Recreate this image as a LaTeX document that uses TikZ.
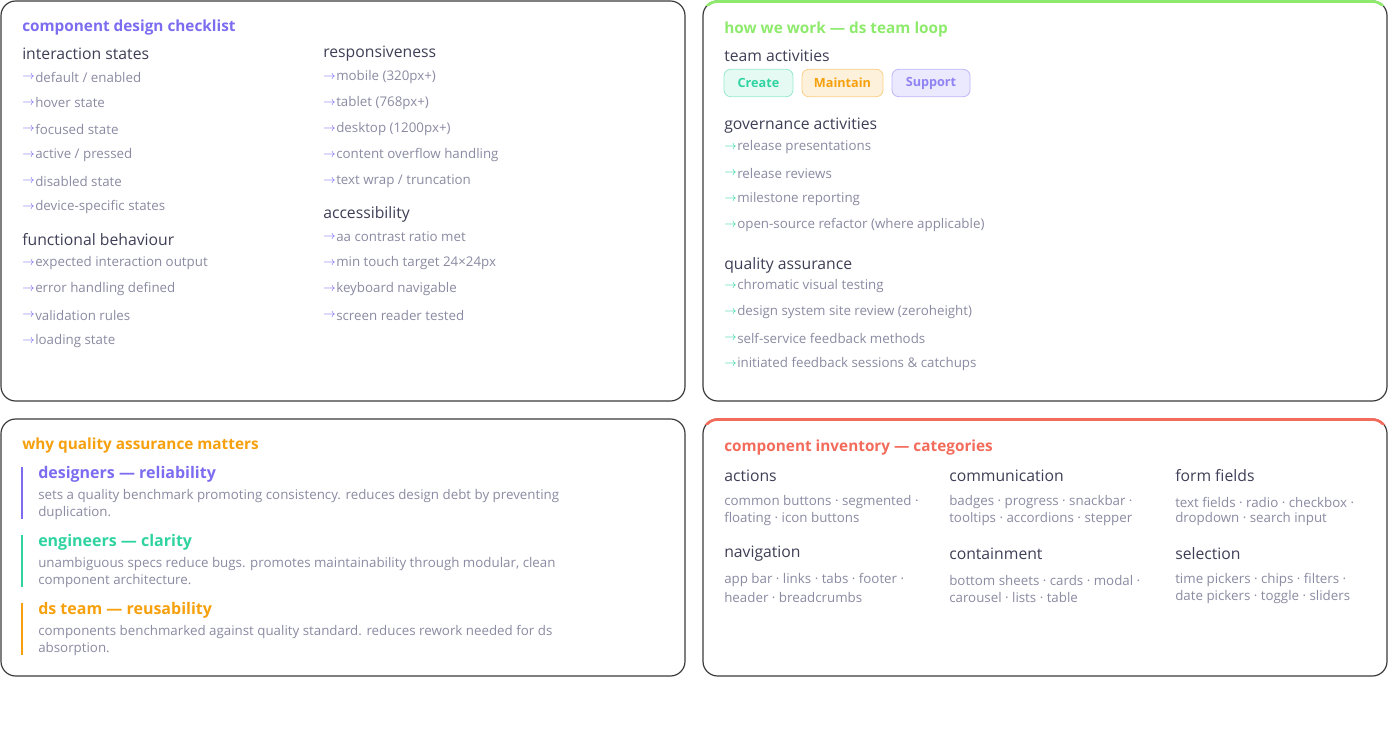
\documentclass[tikz,border=0pt]{standalone}
\usepackage{fontspec}
\setmainfont{Open Sans}
\begin{document}
\definecolor{bord}{HTML}{3A3A3A}
\definecolor{purp}{HTML}{7B6CF0}
\definecolor{lgreen}{HTML}{8EEA6C}
\definecolor{teal}{HTML}{2FD3A0}
\definecolor{orng}{HTML}{F5A00C}
\definecolor{salm}{HTML}{F26B5B}
\definecolor{head}{HTML}{3E3E56}
\definecolor{item}{HTML}{8A8AA2}
\begin{tikzpicture}[x=0.75pt,y=-0.75pt,
  box/.style={draw=bord,line width=0.9pt,rounded corners=11pt},
  ttl/.style={anchor=west,inner sep=0pt,font=\fontsize{11.5}{13}\selectfont\bfseries},
  hd/.style={anchor=west,inner sep=0pt,text=head,font=\fontsize{11.8}{14}\selectfont},
  it/.style={anchor=west,inner sep=0pt,text=item,font=\fontsize{10}{12}\selectfont},
  ar/.style={anchor=west,inner sep=0pt,font=\fontsize{9}{10}\selectfont},
  chip/.style={draw,rounded corners=5pt,line width=0.6pt,minimum height=20.5pt,inner xsep=0pt,font=\fontsize{9.5}{11}\selectfont\bfseries}]
\useasboundingbox (0,0) rectangle (1388,735);
% boxes
\draw[box] (1,1) rectangle (685,401);
\draw[box] (703,1) rectangle (1387,401);
\draw[box] (1,419) rectangle (685,676);
\draw[box] (703,419) rectangle (1387,676);
\begin{scope}
\clip (703,0) rectangle (1388,6);
\draw[lgreen,line width=2pt,rounded corners=11pt] (703,30) -- (703,1.5) -- (1387,1.5) -- (1387,30);
\end{scope}
\begin{scope}
\clip (703,418) rectangle (1388,424);
\draw[salm,line width=2pt,rounded corners=11pt] (703,450) -- (703,419.5) -- (1387,419.5) -- (1387,450);
\end{scope}
% ---- box 1
\node[ttl,text=purp] (t1) at (22,28) {component design checklist};
\newcommand{\itm}[5]{\node[ar,text=#4] (#5a) at (#1,#2) {$\rightarrow$}; \node[it] (#5) at (#1+13,#2) {#3};}
\node[hd] (h1) at (22,54) {interaction states};
\itm{22}{77}{default / enabled}{purp}{a1}
\itm{22}{103}{hover state}{purp}{a2}
\itm{22}{129}{focused state}{purp}{a3}
\itm{22}{155}{active / pressed}{purp}{a4}
\itm{22}{181}{disabled state}{purp}{a5}
\itm{22}{207}{device-specific states}{purp}{a6}
\node[hd] (h2) at (22,240) {functional behaviour};
\itm{22}{263}{expected interaction output}{purp}{b1}
\itm{22}{289}{error handling defined}{purp}{b2}
\itm{22}{315}{validation rules}{purp}{b3}
\itm{22}{341}{loading state}{purp}{b4}
\node[hd] (h3) at (323,54) {responsiveness};
\itm{323}{77}{mobile (320px+)}{purp}{c1}
\itm{323}{103}{tablet (768px+)}{purp}{c2}
\itm{323}{129}{desktop (1200px+)}{purp}{c3}
\itm{323}{155}{content overflow handling}{purp}{c4}
\itm{323}{181}{text wrap / truncation}{purp}{c5}
\node[hd] (h4) at (323,214) {accessibility};
\itm{323}{237}{aa contrast ratio met}{purp}{d1}
\itm{323}{263}{min touch target 24×24px}{purp}{d2}
\itm{323}{289}{keyboard navigable}{purp}{d3}
\itm{323}{315}{screen reader tested}{purp}{d4}
% ---- box 2
\node[ttl,text=lgreen] (t2) at (724,30) {how we work — ds team loop};
\node[hd] (h5) at (724,56) {team activities};
\node[chip,draw=teal!50,fill=teal!12,text=teal,minimum width=51.75pt] (ch1) at (758.5,83) {Create};
\node[chip,draw=orng!50,fill=orng!15,text=orng,minimum width=60.75pt] (ch2) at (842.5,83) {Maintain};
\node[chip,draw=purp!50,fill=purp!15,text=purp!85,minimum width=58.5pt] (ch3) at (931,83) {Support};
\node[hd] (h6) at (724,126) {governance activities};
\itm{724}{147}{release presentations}{teal}{e1}
\itm{724}{173}{release reviews}{teal}{e2}
\itm{724}{199}{milestone reporting}{teal}{e3}
\itm{724}{225}{open-source refactor (where applicable)}{teal}{e4}
\node[hd] (h7) at (724,265) {quality assurance};
\itm{724}{286}{chromatic visual testing}{teal}{f1}
\itm{724}{312}{design system site review (zeroheight)}{teal}{f2}
\itm{724}{338}{self-service feedback methods}{teal}{f3}
\itm{724}{364}{initiated feedback sessions \& catchups}{teal}{f4}
% ---- box 3
\node[ttl,text=orng] (t3) at (22,446) {why quality assurance matters};
\draw[purp,line width=2.2pt] (22,467) -- (22,519);
\draw[teal,line width=2.2pt] (22,535) -- (22,587);
\draw[orng,line width=2.2pt] (22,603) -- (22,655);
\tikzset{sh/.style={anchor=west,inner sep=0pt,font=\fontsize{12}{14}\selectfont\bfseries}}
\node[sh,text=purp] (g1) at (38,474) {designers — reliability};
\node[it] (g1a) at (38,496) {sets a quality benchmark promoting consistency. reduces design debt by preventing};
\node[it] (g1b) at (38,513) {duplication.};
\node[sh,text=teal] (g2) at (38,542) {engineers — clarity};
\node[it] (g2a) at (38,564) {unambiguous specs reduce bugs. promotes maintainability through modular, clean};
\node[it] (g2b) at (38,581) {component architecture.};
\node[sh,text=orng] (g3) at (38,610) {ds team — reusability};
\node[it] (g3a) at (38,632) {components benchmarked against quality standard. reduces rework needed for ds};
\node[it] (g3b) at (38,649) {absorption.};
% ---- box 4
\node[ttl,text=salm] (t4) at (724,448) {component inventory — categories};
\node[hd] (k1) at (724,476) {actions};
\node[it] (k1a) at (724,502) {common buttons · segmented ·};
\node[it] (k1b) at (724,519) {floating · icon buttons};
\node[hd] (k2) at (949,476) {communication};
\node[it] (k2a) at (949,502) {badges · progress · snackbar ·};
\node[it] (k2b) at (949,519) {tooltips · accordions · stepper};
\node[hd] (k3) at (1175,476) {form fields};
\node[it] (k3a) at (1175,502) {text fields · radio · checkbox ·};
\node[it] (k3b) at (1175,519) {dropdown · search input};
\node[hd] (k4) at (724,554) {navigation};
\node[it] (k4a) at (724,580) {app bar · links · tabs · footer ·};
\node[it] (k4b) at (724,597) {header · breadcrumbs};
\node[hd] (k5) at (949,554) {containment};
\node[it] (k5a) at (949,580) {bottom sheets · cards · modal ·};
\node[it] (k5b) at (949,597) {carousel · lists · table};
\node[hd] (k6) at (1175,554) {selection};
\node[it] (k6a) at (1175,580) {time pickers · chips · filters ·};
\node[it] (k6b) at (1175,597) {date pickers · toggle · sliders};
\end{tikzpicture}
\end{document}
